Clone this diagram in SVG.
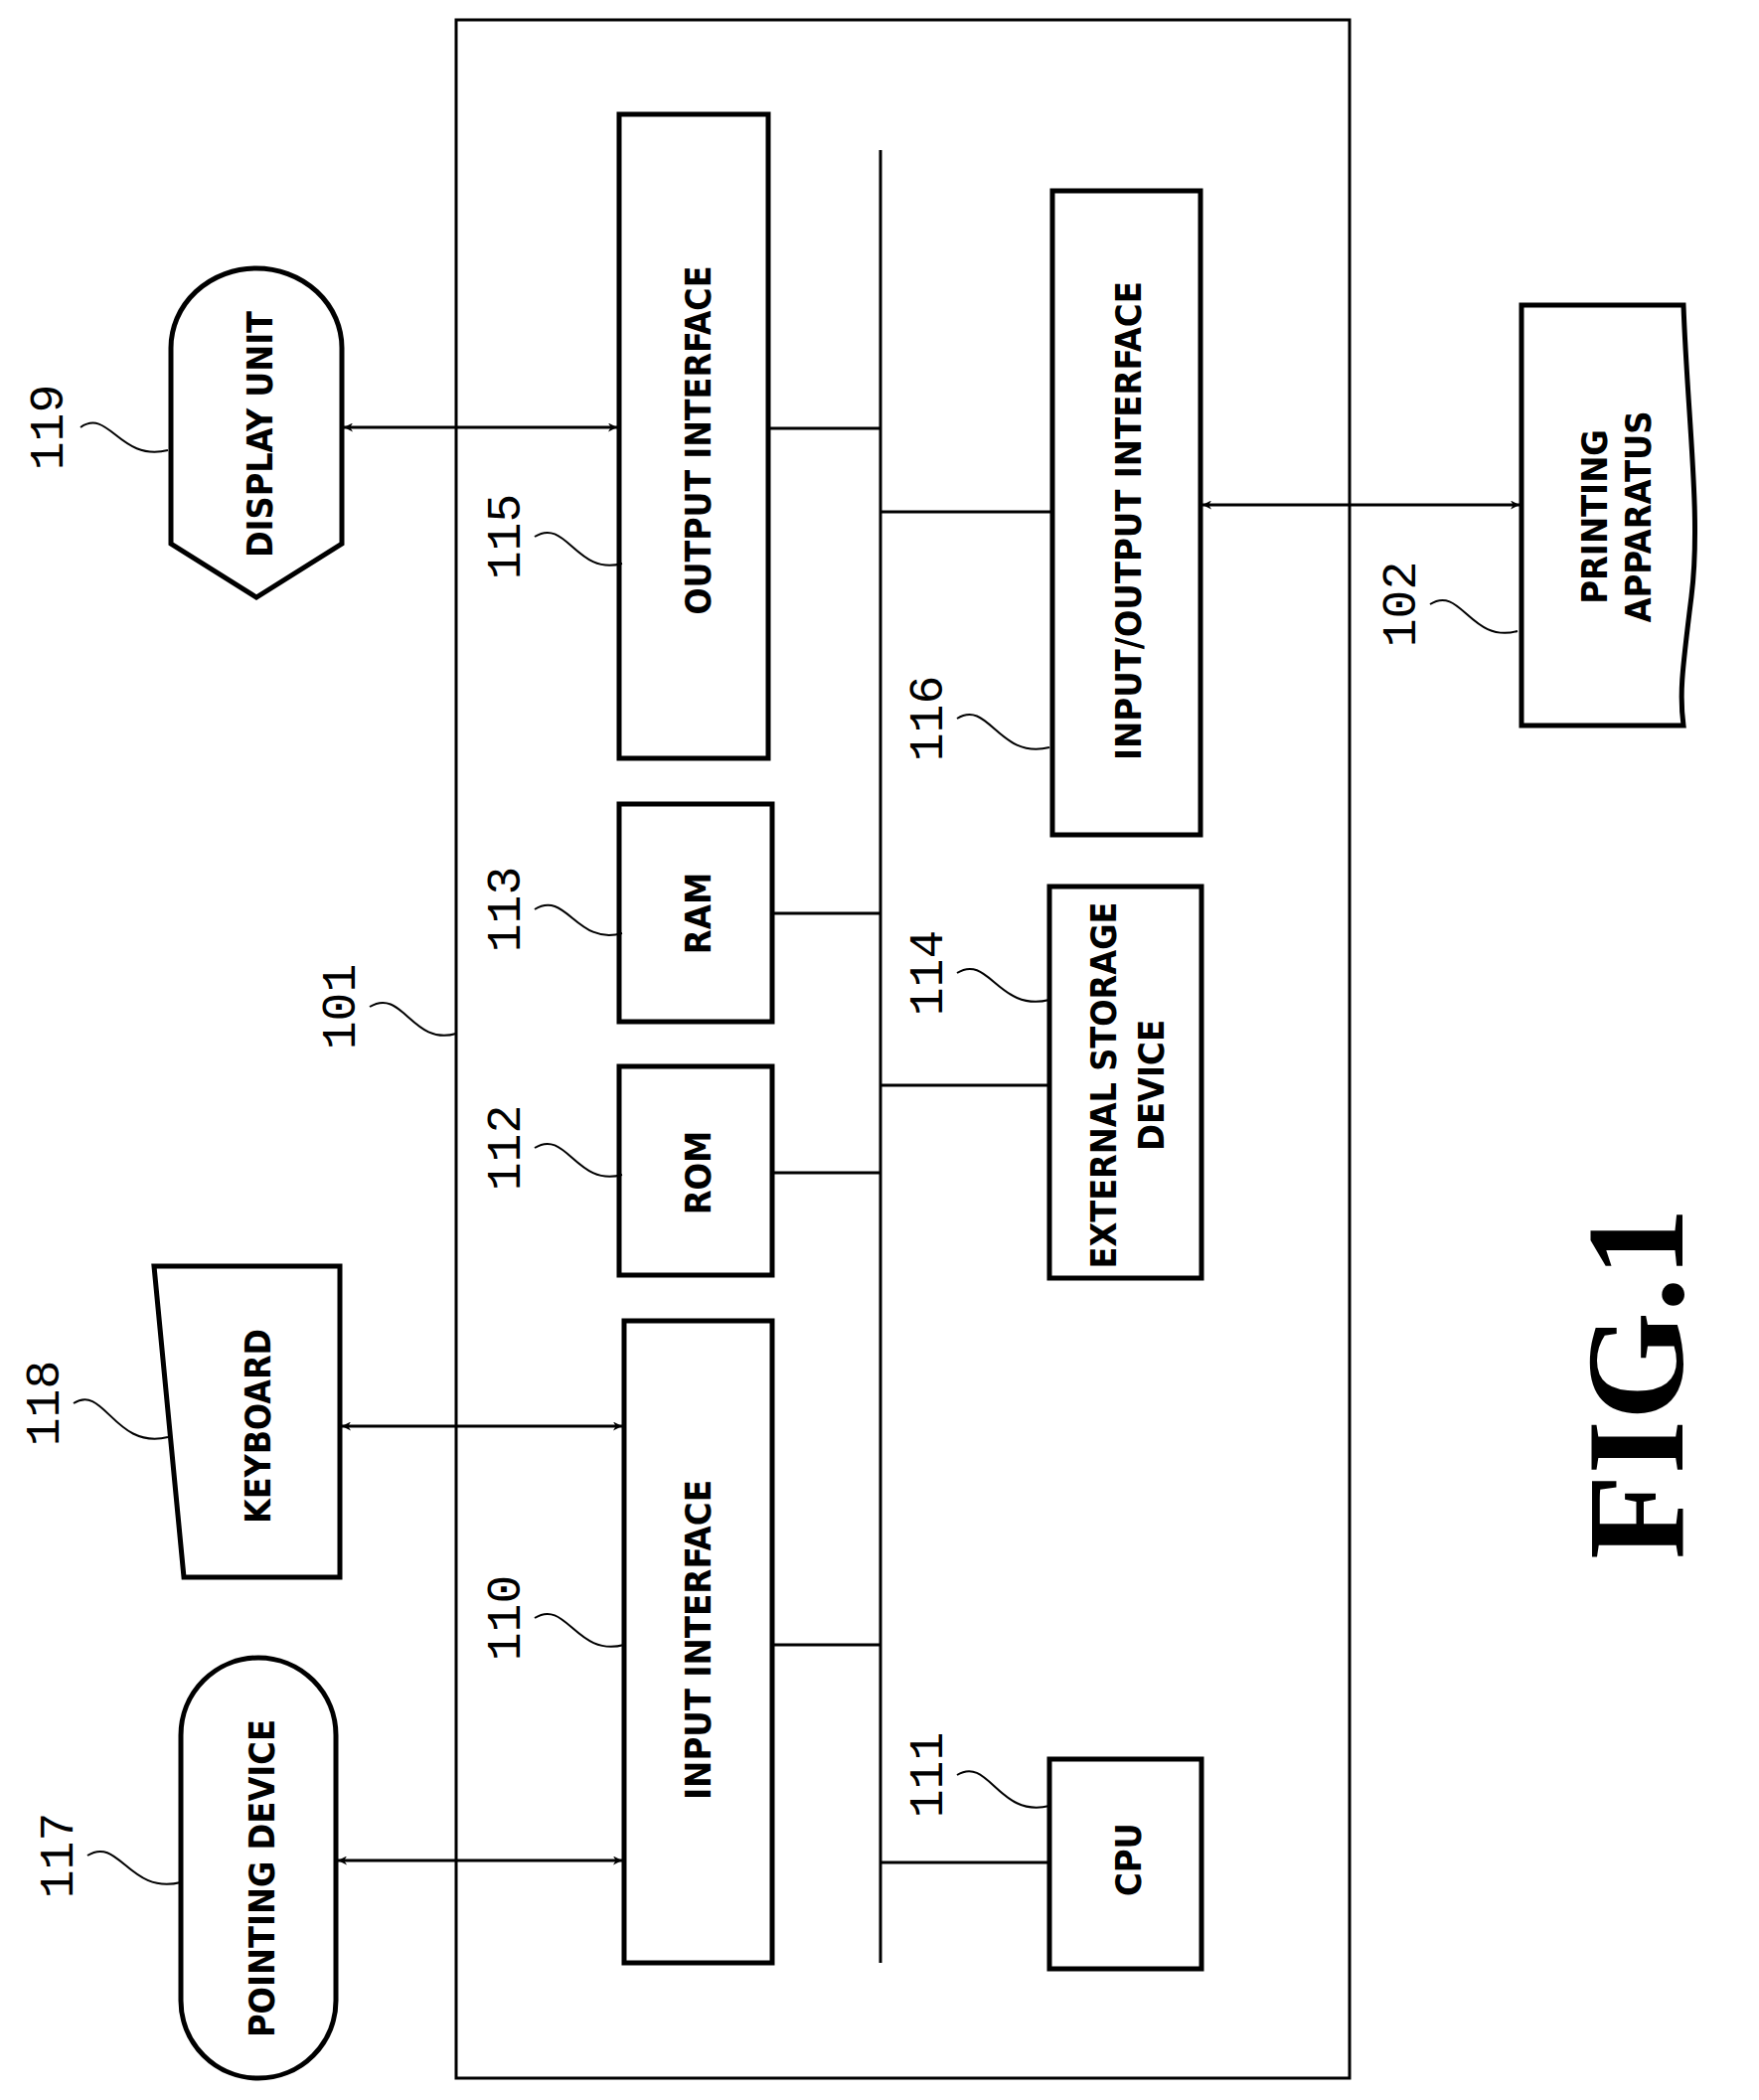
<svg xmlns="http://www.w3.org/2000/svg" width="1770" height="2113" viewBox="0 0 1770 2113">
<style>
.n{fill:#fff;stroke:#000;stroke-width:5}
.t{font-family:"DejaVu Sans Condensed","DejaVu Sans",sans-serif;font-weight:bold;font-size:36px;text-anchor:middle;dominant-baseline:central}
.l{font-family:"Liberation Mono",monospace;font-size:48px;text-anchor:middle;dominant-baseline:central}
.c{stroke:#000;stroke-width:3;fill:none}
.s{stroke:#000;stroke-width:2;fill:none}
</style>
<defs>
<marker id="a" viewBox="0 0 10 10" refX="10" refY="5" markerWidth="9" markerHeight="9" markerUnits="userSpaceOnUse" orient="auto-start-reverse"><path d="M0,0 L10,5 L0,10 L3,5 Z" fill="#000"/></marker>
</defs>
<rect id="n101" x="459" y="20" width="899" height="2071" fill="none" stroke="#000" stroke-width="3"/>
<g id="n119"><path class="n" d="M172,547 L172,350 A86,80 0 0 1 344,350 L344,547 L258,601 Z"/><text class="t" transform="translate(261,437) rotate(-90)" textLength="248" lengthAdjust="spacingAndGlyphs">DISPLAY UNIT</text></g>
<g id="n115"><rect class="n" x="623" y="115" width="150" height="648"/><text class="t" transform="translate(702,443) rotate(-90)" textLength="351" lengthAdjust="spacingAndGlyphs">OUTPUT INTERFACE</text></g>
<g id="n113"><rect class="n" x="623" y="809" width="154" height="219"/><text class="t" transform="translate(702,919) rotate(-90)">RAM</text></g>
<g id="n112"><rect class="n" x="623" y="1073" width="154" height="210"/><text class="t" transform="translate(702,1180) rotate(-90)">ROM</text></g>
<g id="n110"><rect class="n" x="628" y="1329" width="149" height="646"/><text class="t" transform="translate(702,1650) rotate(-90)" textLength="322" lengthAdjust="spacingAndGlyphs">INPUT INTERFACE</text></g>
<g id="n116"><rect class="n" x="1059" y="192" width="149" height="648"/><text class="t" transform="translate(1135,524) rotate(-90)" textLength="482" lengthAdjust="spacingAndGlyphs">INPUT/OUTPUT INTERFACE</text></g>
<g id="n114"><rect class="n" x="1056" y="892" width="153" height="394"/><text class="t" transform="translate(1110,1092) rotate(-90)" textLength="369" lengthAdjust="spacingAndGlyphs">EXTERNAL STORAGE</text><text class="t" transform="translate(1158,1092) rotate(-90)">DEVICE</text></g>
<g id="n111"><rect class="n" x="1056" y="1770" width="153" height="211"/><text class="t" transform="translate(1135,1871) rotate(-90)">CPU</text></g>
<g id="n118"><polygon class="n" points="155,1274 342,1274 342,1587 185,1587"/><text class="t" transform="translate(259,1435) rotate(-90)" textLength="196" lengthAdjust="spacingAndGlyphs">KEYBOARD</text></g>
<g id="n117"><rect class="n" x="182" y="1668" width="156" height="423" rx="78" ry="78"/><text class="t" transform="translate(263,1890) rotate(-90)" textLength="320" lengthAdjust="spacingAndGlyphs">POINTING DEVICE</text></g>
<g id="n102"><path class="n" d="M1531,307 L1694,307 C1698,420 1712,520 1702,600 S1690,700 1694,730 L1531,730 Z"/><text class="t" transform="translate(1604,520) rotate(-90)">PRINTING</text><text class="t" transform="translate(1648,520) rotate(-90)">APPARATUS</text></g>
<g id="connectors">
<line class="c" x1="886" y1="151" x2="886" y2="1975"/>
<line class="c" x1="773" y1="431" x2="886" y2="431"/>
<line class="c" x1="886" y1="515" x2="1059" y2="515"/>
<line class="c" x1="777" y1="919" x2="886" y2="919"/>
<line class="c" x1="886" y1="1092" x2="1056" y2="1092"/>
<line class="c" x1="777" y1="1180" x2="886" y2="1180"/>
<line class="c" x1="777" y1="1655" x2="886" y2="1655"/>
<line class="c" x1="886" y1="1874" x2="1056" y2="1874"/>
<line class="c" x1="346" y1="430" x2="621" y2="430" marker-start="url(#a)" marker-end="url(#a)"/>
<line class="c" x1="344" y1="1435" x2="626" y2="1435" marker-start="url(#a)" marker-end="url(#a)"/>
<line class="c" x1="340" y1="1872" x2="626" y2="1872" marker-start="url(#a)" marker-end="url(#a)"/>
<line class="c" x1="1210" y1="508" x2="1529" y2="508" marker-start="url(#a)" marker-end="url(#a)"/>
</g>
<g id="labels">
<path class="s" d="M81,430 C110,410 120,465 169,453"/><text class="l" transform="translate(50,430) rotate(-90)">119</text>
<path class="s" d="M538,540 C570,520 580,580 626,567"/><text class="l" transform="translate(510,540) rotate(-90)">115</text>
<path class="s" d="M538,915 C570,895 580,952 626,939"/><text class="l" transform="translate(510,915) rotate(-90)">113</text>
<path class="s" d="M538,1155 C570,1135 580,1195 626,1182"/><text class="l" transform="translate(510,1155) rotate(-90)">112</text>
<path class="s" d="M372,1013 C405,993 415,1053 459,1040"/><text class="l" transform="translate(344,1013) rotate(-90)">101</text>
<path class="s" d="M538,1628 C570,1608 580,1668 628,1655"/><text class="l" transform="translate(510,1628) rotate(-90)">110</text>
<path class="s" d="M74,1412 C105,1392 115,1459 169,1446"/><text class="l" transform="translate(46,1412) rotate(-90)">118</text>
<path class="s" d="M88,1867 C120,1847 130,1907 182,1894"/><text class="l" transform="translate(60,1867) rotate(-90)">117</text>
<path class="s" d="M963,723 C995,703 1005,765 1056,752"/><text class="l" transform="translate(935,723) rotate(-90)">116</text>
<path class="s" d="M963,979 C995,959 1005,1019 1056,1006"/><text class="l" transform="translate(935,979) rotate(-90)">114</text>
<path class="s" d="M963,1786 C995,1766 1005,1830 1056,1817"/><text class="l" transform="translate(935,1786) rotate(-90)">111</text>
<path class="s" d="M1439,608 C1470,588 1480,648 1527,635"/><text class="l" transform="translate(1411,608) rotate(-90)">102</text>
</g>
<text transform="translate(1645,1392) rotate(-90)" font-family="Liberation Serif,serif" font-weight="bold" font-size="140" text-anchor="middle" dominant-baseline="central">FIG.1</text>
</svg>
